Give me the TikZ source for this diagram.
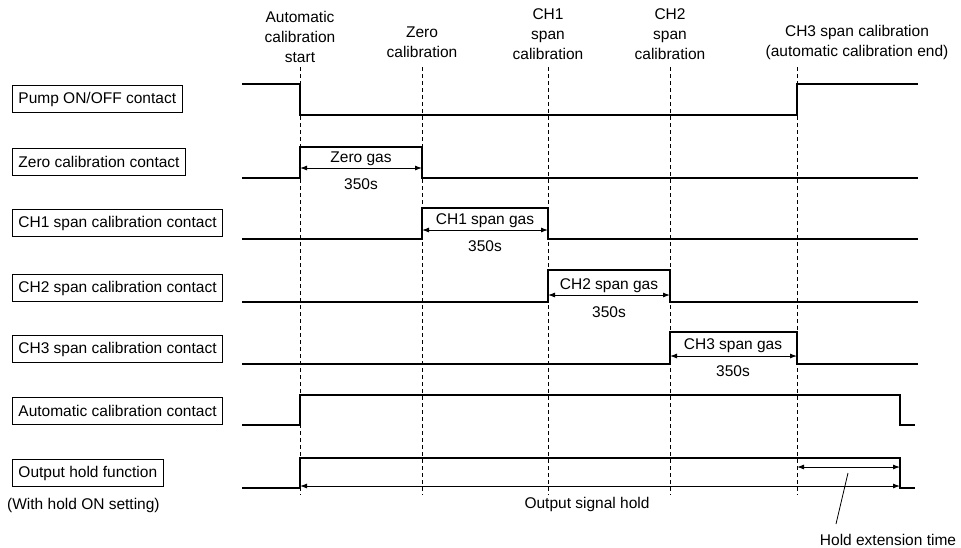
\documentclass[tikz,border=0pt]{standalone}
\usepackage{fontspec}
\setmainfont{Liberation Sans}
\usetikzlibrary{arrows.meta}
\begin{document}
\begin{tikzpicture}[x=1pt,y=-1pt,
  sig/.style={line width=1.1pt, line join=miter},
  guide/.style={line width=0.9pt, dash pattern=on 4pt off 3pt},
  dim/.style={line width=0.9pt, {Latex[length=7pt,width=5pt]}-{Latex[length=7pt,width=5pt]}},
  lbl/.style={draw, line width=0.9pt, font=\fontsize{15.5}{18}\selectfont, inner xsep=6pt, inner ysep=2pt, anchor=south west, minimum height=27pt},
  txt/.style={font=\fontsize{15.5}{18}\selectfont, inner sep=0pt},
  head/.style={font=\fontsize{15.5}{20}\selectfont, align=center, inner sep=0pt}
]
\useasboundingbox (0,0) rectangle (961,547);

% time marks
\foreach \n/\x in {t1/300,t2/422,t3/548,t4/670,t5/797}{
  \coordinate (\n top) at (\x,67);
  \coordinate (\n bot) at (\x,495);
}
\foreach \n in {t1,t2,t3,t4,t5}{ \draw[guide] (\n top) -- (\n bot); }

% headings
\node[head] (hA) at (300,37) {Automatic\\calibration\\start};
\node[head] (hZ) at (422,42) {Zero\\calibration};
\node[head] (h1) at (548,34) {CH1\\span\\calibration};
\node[head] (h2) at (670,34) {CH2\\span\\calibration};
\node[head] (h3) at (857,42) {CH3 span calibration\\(automatic calibration end)};

% left labels
\node[lbl] (lP) at (12,113) {Pump ON/OFF contact};
\node[lbl] (lZ) at (12,176) {Zero calibration contact};
\node[lbl] (l1) at (12,237) {CH1 span calibration contact};
\node[lbl] (l2) at (12,302) {CH2 span calibration contact};
\node[lbl] (l3) at (12,363) {CH3 span calibration contact};
\node[lbl] (lA) at (12,425) {Automatic calibration contact};
\node[lbl] (lH) at (12,487) {Output hold function};
\node[txt, anchor=west] (lHs) at (7,505) {(With hold ON setting)};

% waveforms
\draw[sig] (242,84) -- (300,84) -- (300,115) -- (797,115) -- (797,84) -- (918,84);
\draw[sig] (242,178) -- (300,178) -- (300,147) -- (422,147) -- (422,178) -- (918,178);
\draw[sig] (242,239) -- (422,239) -- (422,208) -- (548,208) -- (548,239) -- (918,239);
\draw[sig] (242,302) -- (548,302) -- (548,270) -- (670,270) -- (670,302) -- (918,302);
\draw[sig] (242,364) -- (670,364) -- (670,332) -- (797,332) -- (797,364) -- (918,364);
\draw[sig] (242,425) -- (300,425) -- (300,395) -- (900,395) -- (900,425) -- (915,425);
\draw[sig] (242,488) -- (300,488) -- (300,458) -- (900,458) -- (900,488) -- (915,488);

% dimension arrows
\coordinate (dZa) at (300,168); \coordinate (dZb) at (422,168);
\coordinate (d1a) at (422,230); \coordinate (d1b) at (548,230);
\coordinate (d2a) at (548,295); \coordinate (d2b) at (670,295);
\coordinate (d3a) at (670,356); \coordinate (d3b) at (797,356);
\coordinate (dHa) at (300,486); \coordinate (dHb) at (900,486);
\coordinate (dEa) at (797,467); \coordinate (dEb) at (900,467);
\draw[dim] (dZa) -- (dZb);
\draw[dim] (d1a) -- (d1b);
\draw[dim] (d2a) -- (d2b);
\draw[dim] (d3a) -- (d3b);
\draw[dim] (dHa) -- (dHb);
\draw[dim] (dEa) -- (dEb);

\node[txt] (gZ) at (361,159) {Zero gas};
\node[txt] (sZ) at (361,184) {350s};
\node[txt] (g1) at (485,221) {CH1 span gas};
\node[txt] (s1) at (485,246) {350s};
\node[txt] (g2) at (609,286) {CH2 span gas};
\node[txt] (s2) at (609,312) {350s};
\node[txt] (g3) at (733,346) {CH3 span gas};
\node[txt] (s3) at (733,371) {350s};
\node[txt] (oh) at (587,504) {Output signal hold};
\node[txt] (he) at (888,540) {Hold extension time};
\coordinate (leadTop) at (848,473);
\draw[line width=0.8pt] (leadTop) -- (836,524);
\end{tikzpicture}
\end{document}
